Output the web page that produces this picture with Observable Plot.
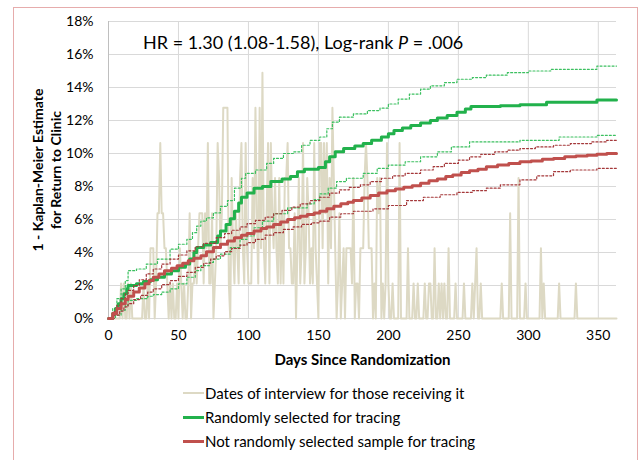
<!DOCTYPE html>
<html>
<head>
<meta charset="utf-8">
<script src="https://cdn.jsdelivr.net/npm/d3@7"></script>
<script src="https://cdn.jsdelivr.net/npm/@observablehq/plot@0.6"></script>
<style>
  html, body { margin: 0; padding: 0; background: #fff; }
  body { width: 639px; height: 460px; overflow: hidden; position: relative; font-family: Lato, "Noto Sans", sans-serif; }
  #frame { position: absolute; left: 13px; top: 7px; width: 625px; height: 470px; border: 1.5px solid #e6acac; box-sizing: border-box; }
  #chart { position: absolute; left: 0; top: 0; }
  #title { position: absolute; left: 143px; top: 31px; font-size: 18px; color: #000; white-space: nowrap; }
  .leg { position: absolute; left: 183px; font-size: 15px; color: #000; white-space: nowrap; display: flex; align-items: center; }
  .leg span.sw { display: inline-block; width: 21px; height: 0; margin-right: 1px; }
</style>
</head>
<body>
<div id="frame"></div>
<div id="chart"></div>
<div id="title">HR = 1.30 (1.08-1.58), Log-rank <i>P</i> = .006</div>
<div id="legend"></div>
<script>
// ---- Data ----
const xTicks = [0, 50, 100, 150, 200, 250, 300, 350];
const yTicks = [0, 2, 4, 6, 8, 10, 12, 14, 16, 18];
const seriesNames = [
  "Dates of interview for those receiving it",
  "Randomly selected for tracing",
  "Not randomly selected sample for tracing"
];
const seriesColors = ["#ddd9c4", "#22b14c", "#c0504d"];

// interviews per day (day 0..363); one interview = 100/47 %
const pctPerInterview = 100 / 47;
const interviewCounts = [
  0,0,0,0,0,0,0,0,0,1, 0,1,0,0,1,0,1,0,0,0, 0,0,0,0,0,1,0,0,1,0,
  2,2,2,0,1,3,3,5,3,3, 2,2,1,0,1,0,1,0,0,1, 0,2,1,0,1,0,0,1,3,0,
  1,1,2,1,2,3,3,3,1,3, 2,5,1,1,3,0,1,2,5,4, 2,3,6,6,6,6,1,0,4,2,
  1,3,2,1,4,5,2,1,5,2, 1,1,1,4,2,6,3,1,6,2, 7,2,1,3,5,1,5,3,2,4,
  2,1,4,1,3,1,4,4,5,2, 2,1,1,3,0,2,4,1,2,5, 1,2,4,3,1,2,1,5,2,1,
  0,5,5,2,5,3,5,1,4,2, 6,4,2,0,1,3,0,1,2,0, 2,2,2,2,1,4,0,1,1,0,
  2,2,2,4,5,4,2,2,2,0, 1,0,4,3,4,0,1,0,1,5, 1,0,0,1,0,0,0,0,5,0,
  0,0,0,0,2,0,0,0,1,0, 0,1,0,0,0,0,1,0,0,1, 1,0,0,2,0,0,1,0,1,0,
  1,0,0,2,0,0,0,0,1,0, 0,0,0,0,1,0,0,0,0,0, 1,0,1,2,0,0,1,0,0,0,
  0,0,0,0,0,0,0,0,0,0, 0,1,0,0,0,0,0,3,0,0, 0,0,0,4,0,0,0,0,1,0,
  0,0,0,0,0,0,0,0,0,2, 0,1,0,0,0,0,0,0,0,0, 0,0,1,0,0,0,0,0,0,0,
  0,0,0,0,1,0,0,0,0,0, 0,0,0,0,0,0,0,0,0,0, 0,0,0,0,0,0,0,0,0,0,
  0,0,0,0
];

// Kaplan-Meier curves: [day, percent]
const greenEstimate = [[0,0],[3,0.3],[5,0.6],[7,0.9],[9,1.2],[11,1.5],[13,1.8],[14,2.0],[20,2.1],[25,2.25],[30,2.35],[35,2.5],[40,2.7],[45,2.9],[50,3.1],[55,3.3],[58,3.6],[61,4.0],[63,4.3],[68,4.45],[73,4.6],[78,5.0],[80,5.3],[84,5.7],[87,6.05],[90,6.5],[93,7.0],[95,7.35],[99,7.6],[104,7.9],[110,8.0],[116,8.3],[124,8.45],[130,8.6],[135,8.9],[140,9.05],[150,9.15],[155,9.5],[158,9.8],[162,10.1],[168,10.3],[176,10.45],[182,10.6],[188,10.8],[195,11.0],[200,11.2],[204,11.4],[210,11.55],[216,11.7],[223,11.85],[230,12.0],[235,12.15],[242,12.3],[249,12.5],[255,12.7],[259,12.85],[280,12.9],[294,12.95],[313,13.1],[349,13.25],[363,13.25]];
const greenUpper = [[0,0],[3,0.6],[6,1.2],[9,1.8],[12,2.3],[14,2.9],[20,3.0],[27,3.3],[35,3.6],[44,4.2],[50,4.5],[56,4.8],[60,5.2],[63,5.6],[66,5.9],[70,6.1],[75,6.4],[80,6.8],[85,7.15],[90,7.9],[95,8.5],[98,8.8],[105,9.0],[113,9.4],[118,9.7],[125,10.0],[132,10.1],[138,10.5],[144,10.8],[151,11.0],[156,11.5],[160,11.9],[165,12.2],[175,12.4],[185,12.6],[194,12.75],[200,13.0],[207,13.3],[215,13.6],[223,13.9],[230,14.1],[240,14.3],[249,14.5],[260,14.6],[270,14.75],[285,14.9],[300,15.0],[316,15.1],[349,15.3],[363,15.3]];
const greenLower = [[0,0],[5,0.2],[9,0.5],[12,0.8],[14,1.1],[20,1.2],[28,1.35],[32,1.45],[38,1.6],[44,1.8],[50,2.1],[56,2.5],[62,2.9],[66,3.2],[72,3.4],[75,3.6],[80,3.9],[87,4.3],[94,4.8],[99,5.0],[104,5.5],[110,5.9],[118,6.35],[128,6.7],[142,6.95],[147,7.2],[151,7.55],[157,7.9],[163,8.3],[170,8.5],[182,8.8],[192,9.1],[200,9.3],[212,9.5],[223,9.8],[235,10.1],[245,10.4],[258,10.7],[294,10.8],[322,11.0],[349,11.1],[363,11.1]];
const redEstimate = [[0,0],[3,0.3],[6,0.6],[9,0.9],[12,1.15],[14,1.35],[18,1.6],[22,1.85],[26,2.1],[29,2.3],[32,2.5],[36,2.7],[40,2.9],[45,3.05],[49,3.2],[53,3.35],[57,3.5],[61,3.65],[66,3.8],[70,4.05],[75,4.3],[80,4.5],[85,4.7],[90,4.9],[95,5.05],[99,5.15],[104,5.3],[109,5.45],[113,5.55],[118,5.7],[123,5.85],[128,6.0],[133,6.1],[137,6.2],[142,6.3],[147,6.4],[151,6.5],[156,6.65],[161,6.8],[166,6.95],[171,7.05],[175,7.15],[181,7.3],[187,7.45],[193,7.6],[199,7.75],[205,7.85],[211,7.95],[217,8.05],[223,8.2],[229,8.35],[235,8.45],[241,8.6],[246,8.7],[252,8.85],[258,8.95],[264,9.05],[270,9.2],[278,9.3],[286,9.4],[294,9.5],[302,9.55],[310,9.65],[318,9.7],[326,9.8],[334,9.85],[342,9.9],[349,9.95],[356,10.0],[363,10.0]];
const redUpper = [[0,0],[3,0.4],[6,0.8],[9,1.2],[12,1.5],[14,1.7],[18,2.0],[22,2.35],[27,2.7],[32,3.0],[38,3.3],[44,3.6],[50,3.85],[56,4.1],[62,4.35],[68,4.55],[77,4.9],[83,5.15],[88,5.35],[94,5.55],[99,5.75],[105,5.95],[112,6.15],[118,6.35],[124,6.55],[131,6.75],[137,6.95],[144,7.15],[151,7.35],[158,7.6],[165,7.8],[172,7.95],[180,8.1],[187,8.3],[195,8.5],[203,8.65],[212,8.8],[223,9.0],[232,9.2],[240,9.4],[250,9.6],[258,9.8],[266,9.95],[276,10.1],[285,10.2],[294,10.3],[305,10.4],[318,10.5],[330,10.6],[345,10.7],[356,10.8],[363,10.8]];
const redLower = [[0,0],[4,0.2],[8,0.45],[11,0.7],[14,0.9],[18,1.15],[23,1.4],[28,1.6],[32,1.8],[38,2.05],[44,2.3],[50,2.55],[56,2.8],[62,3.1],[68,3.35],[73,3.6],[77,3.8],[83,4.05],[88,4.25],[94,4.45],[99,4.6],[105,4.8],[112,5.05],[118,5.2],[125,5.4],[132,5.55],[138,5.7],[145,5.8],[151,5.9],[158,6.15],[166,6.35],[175,6.5],[189,6.65],[200,6.85],[213,7.15],[225,7.35],[237,7.5],[249,7.65],[260,7.75],[270,7.9],[280,8.1],[294,8.4],[306,8.65],[318,8.9],[330,9.0],[349,9.1],[363,9.2]];

const xLabel = "Days Since Randomization";
const yLabel = "1 - Kaplan-Meier Estimate\nfor Return to Clinic";

// ---- Chart ----
const stepLine = (data, stroke, width, dash) => Plot.line(data, {
  x: d => d[0], y: d => d[1], curve: "step-after",
  stroke, strokeWidth: width, strokeDasharray: dash
});

const chart = Plot.plot({
  width: 639, height: 370,
  marginLeft: 108, marginRight: 23, marginTop: 21, marginBottom: 52,
  x: { domain: [0, 363] },
  y: { domain: [0, 18] },
  style: { fontFamily: "Lato, 'Noto Sans', sans-serif", fontSize: "14px", color: "#000", background: "transparent", overflow: "visible" },
  marks: [
    Plot.gridX(xTicks, { stroke: "#d9d9d9", strokeOpacity: 1 }),
    Plot.gridY(yTicks, { stroke: "#d9d9d9", strokeOpacity: 1 }),
    Plot.axisX({ ticks: xTicks, tickSize: 0, tickPadding: 12, label: null, fontSize: 14 }),
    Plot.axisY({ ticks: yTicks, tickSize: 0, tickPadding: 15, label: null, fontSize: 14, tickFormat: d => d + "%" }),
    Plot.ruleX([0], { stroke: "#bfbfbf" }),
    Plot.line(interviewCounts, { x: (d, i) => i, y: d => d * pctPerInterview, stroke: seriesColors[0], strokeWidth: 2 }),
    stepLine(greenUpper, "#3cc060", 1.2, "2 2"),
    stepLine(greenLower, "#3cc060", 1.2, "2 2"),
    stepLine(greenEstimate, seriesColors[1], 3),
    stepLine(redUpper, "#a5383a", 1.2, "2 2"),
    stepLine(redLower, "#a5383a", 1.2, "2 2"),
    stepLine(redEstimate, seriesColors[2], 3),
    Plot.text([xLabel], { frameAnchor: "bottom", dy: 42, lineAnchor: "middle", fontWeight: "bold", fontSize: 15, text: d => d }),
    Plot.text([yLabel], { frameAnchor: "left", textAnchor: "middle", dx: -62, rotate: -90, lineAnchor: "middle", fontWeight: "bold", fontSize: 14, lineHeight: 1.25, text: d => d })
  ]
});
document.getElementById("chart").appendChild(chart);

// ---- Legend ----
const legend = document.getElementById("legend");
const legendTops = [384, 408, 432];
seriesNames.forEach((name, i) => {
  const row = document.createElement("div");
  row.className = "leg";
  row.style.top = legendTops[i] + "px";
  const sw = document.createElement("span");
  sw.className = "sw";
  sw.style.borderTop = (i === 0 ? 2 : 3) + "px solid " + seriesColors[i];
  row.appendChild(sw);
  row.appendChild(document.createTextNode(name));
  legend.appendChild(row);
});
</script>
</body>
</html>
